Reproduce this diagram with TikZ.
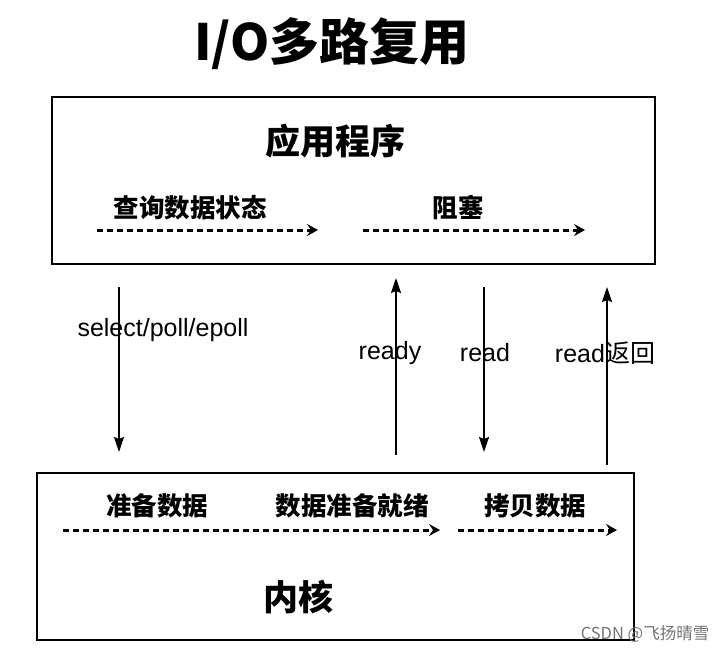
\documentclass[tikz,border=0pt]{standalone}
\usepackage{fontspec}
\setmainfont{Liberation Sans}
\newfontfamily\cjk{Noto Sans CJK SC}
\usetikzlibrary{positioning,arrows.meta}

\begin{document}
\begin{tikzpicture}[
  x=1pt, y=-1pt,
  box/.style={draw, line width=2.4pt, inner sep=0pt},
  zh/.style={font=\cjk\bfseries\fontsize{25.5}{30}\selectfont, inner sep=0pt},
  big/.style={font=\cjk\bfseries\fontsize{35}{40}\selectfont, inner sep=0pt},
  lbl/.style={font=\fontsize{25}{29}\selectfont, inner sep=0pt},
  call/.style={-{Stealth[length=15pt,width=10pt,inset=2pt]}, line width=1.6pt},
  flow/.style={-{Stealth[length=11pt,width=12pt,inset=4pt]}, line width=3pt,
               dash pattern=on 6pt off 4pt}
]
  \useasboundingbox (0,0) rectangle (727,654);

  \node[font=\cjk\bfseries\fontsize{50}{56}\selectfont] (title) at (332,44) {I/O多路复用};

  % user space
  \node[box, minimum width=603pt, minimum height=167pt] (app) at (353.5,180.5) {};
  \node[big]  (appname) at (335,141) {应用程序};
  \node[zh]   (query)   at (190,208) {查询数据状态};
  \node[zh]   (block)   at (458,208) {阻塞};
  \coordinate (q1) at (97,230);  \coordinate (q2) at (318,230);
  \coordinate (b1) at (363,230); \coordinate (b2) at (585,230);
  \draw[flow] (q1) -- (q2);
  \draw[flow] (b1) -- (b2);

  % kernel
  \node[box, minimum width=597pt, minimum height=167pt] (kern) at (335.5,556.5) {};
  \node[zh]   (prep)    at (157,506) {准备数据};
  \node[zh]   (done)    at (352,506) {数据准备就绪};
  \node[zh]   (copy)    at (535,506) {拷贝数据};
  \node[big]  (kername) at (298,597) {内核};
  \coordinate (k1) at (63,530);  \coordinate (k2) at (440,530);
  \coordinate (k3) at (458,530); \coordinate (k4) at (617,530);
  \draw[flow] (k1) -- (k2);
  \draw[flow] (k3) -- (k4);

  % calls between the two
  \coordinate (s1) at (119,287); \coordinate (s2) at (119,452);
  \coordinate (r1) at (396,455); \coordinate (r2) at (396,278);
  \coordinate (d1) at (484,287); \coordinate (d2) at (484,452);
  \coordinate (c1) at (607,465); \coordinate (c2) at (607,287);
  \draw[call] (s1) -- (s2);
  \draw[call] (r1) -- (r2);
  \draw[call] (d1) -- (d2);
  \draw[call] (c1) -- (c2);
  \node[lbl] (sel)   at (163,330) {select/poll/epoll};
  \node[lbl] (rdy)   at (390,353) {ready};
  \node[lbl] (rd)    at (485,353) {read};
  \node[lbl] (rdret) at (605,353) {read{\cjk 返回}};

  \node[font=\cjk\fontsize{16.5}{19}\selectfont, text=black!55] (mark) at (645,634) {CSDN @飞扬晴雪};
\end{tikzpicture}
\end{document}
